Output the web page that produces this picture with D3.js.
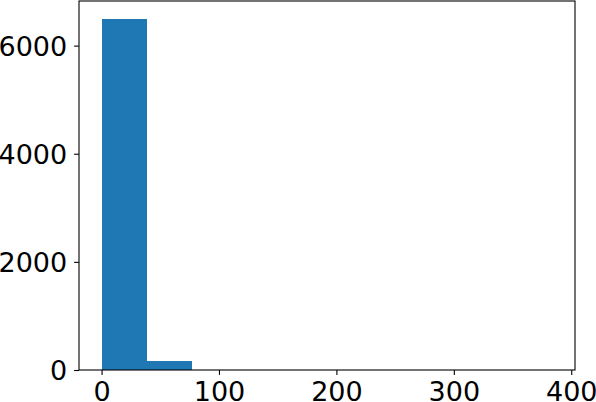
<!DOCTYPE html>
<html><head><meta charset="utf-8">
<script src="https://cdn.jsdelivr.net/npm/d3@7"></script>
<style>html,body{margin:0;padding:0;background:#fff;overflow:hidden}</style>
</head><body>
<svg id="c" width="596" height="402"></svg>
<script>
const binStarts = [0, 38.4, 76.8, 115.2, 153.6, 192.0, 230.4, 268.8, 307.2, 345.6];
const binEnds   = [38.4, 76.8, 115.2, 153.6, 192.0, 230.4, 268.8, 307.2, 345.6, 384.0];
const counts    = [6500, 165, 3, 1, 0, 0, 0, 0, 0, 1];
const xTicks = [0, 100, 200, 300, 400];
const yTicks = [0, 2000, 4000, 6000];

const L = 79, R = 575, T = 1, B = 370;
const fs = 27;
const svg = d3.select("#c");
const xMin = 0, xMax = 384;
const pad = (xMax - xMin) * 0.05;
const x = d3.scaleLinear().domain([xMin - pad, xMax + pad]).range([L, R]);
const yMax = d3.max(counts) * 1.05;
const y = d3.scaleLinear().domain([0, yMax]).range([B, T]);

svg.append("g").attr("shape-rendering", "crispEdges").selectAll("rect").data(counts).join("rect")
  .attr("x", (d, i) => x(binStarts[i]))
  .attr("width", (d, i) => x(binEnds[i]) - x(binStarts[i]))
  .attr("y", d => y(d))
  .attr("height", d => B - y(d))
  .attr("fill", "#1f77b4");

// frame
svg.append("rect").attr("x", L).attr("y", T).attr("width", R - L).attr("height", B - T)
  .attr("fill", "none").attr("stroke", "#000").attr("stroke-width", 1.1);

const xAxis = d3.axisBottom(x).tickValues(xTicks).tickSize(4.9).tickPadding(4.9).tickFormat(d3.format("d"));
const gx = svg.append("g").attr("transform", `translate(0,${B})`).call(xAxis);
gx.select(".domain").remove();
gx.selectAll(".tick line").attr("stroke", "#000").attr("stroke-width", 1.1);
gx.selectAll(".tick text").attr("font-family", "DejaVu Sans").attr("font-size", fs).attr("fill", "#000")
  .attr("dy", null).attr("y", 4.9 + 4.9 + fs * 0.78);

const yAxis = d3.axisLeft(y).tickValues(yTicks).tickSize(4.9).tickPadding(4.9).tickFormat(d3.format("d"));
const gy = svg.append("g").attr("transform", `translate(${L},0)`).call(yAxis);
gy.select(".domain").remove();
gy.selectAll(".tick line").attr("stroke", "#000").attr("stroke-width", 1.1);
gy.selectAll(".tick text").attr("font-family", "DejaVu Sans").attr("font-size", fs).attr("fill", "#000")
  .attr("dy", null).attr("y", fs * 0.729 / 2).attr("x", -(4.9 + 4.9 + 2));
</script>
</body></html>
